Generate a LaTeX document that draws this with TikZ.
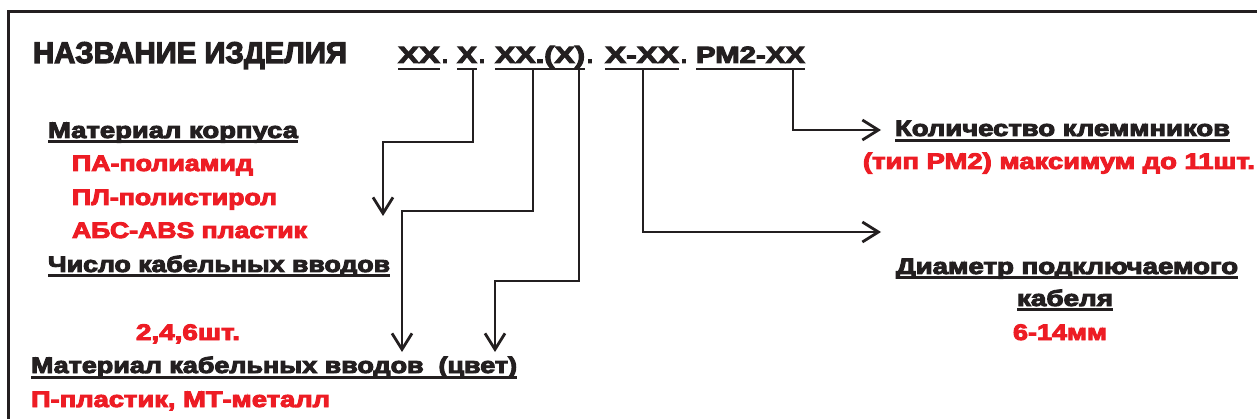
\documentclass[tikz,border=0pt]{standalone}
\usepackage{fontspec}
\setmainfont{Liberation Sans}
\newfontfamily\heavyfont{Liberation Sans}[FakeBold=4,BoldFeatures={FakeBold=4}]
\usepackage{graphicx}
\usetikzlibrary{arrows.meta}
\definecolor{ink}{HTML}{231F20}
\definecolor{redt}{RGB}{237,28,36}
\newcommand{\fitw}[2]{\resizebox{#1}{\height}{#2}}
\newcommand{\drawul}[2]{\draw[ulline] ([yshift=-#2]#1.base west) -- ([yshift=-#2]#1.base east);}
\tikzset{
  txt/.style={inner sep=0pt, outer sep=0pt, anchor=base west, text=ink,
    font=\heavyfont\fontsize{22.5}{23}\selectfont\bfseries},
  redtxt/.style={txt, text=redt},
  ttl/.style={txt, font=\heavyfont\fontsize{30}{31}\selectfont\bfseries},
  codetxt/.style={txt, font=\heavyfont\fontsize{23.5}{24}\selectfont\bfseries},
  ulline/.style={draw=ink, line width=2.4pt},
  frameline/.style={draw=ink, line width=3pt},
  conn/.style={draw=ink, line width=2.8pt, -{Straight Barb[length=16pt,width=20pt]}},
}
\begin{document}
\begin{tikzpicture}[x=1pt,y=-1pt]
\useasboundingbox (0,0) rectangle (1257,419);
% frame
\draw[frameline] (8.5,420) -- (8.5,11.5) -- (1258,11.5);

% title and code
\node[ttl] (title) at (33,63) {\fitw{314pt}{НАЗВАНИЕ ИЗДЕЛИЯ}};
\node[codetxt] (c1) at (398,63) {\fitw{42pt}{ХХ}};
\node[codetxt] (d1) at (442,63) {\fitw{6pt}{.}};
\node[codetxt] (c2) at (457,63) {\fitw{20pt}{Х}};
\node[codetxt] (d2) at (479,63) {\fitw{6pt}{.}};
\node[codetxt] (c3) at (495,63) {\fitw{90pt}{ХХ.(Х)}};
\node[codetxt] (d3) at (587,63) {\fitw{6pt}{.}};
\node[codetxt] (c4) at (605,63) {\fitw{74pt}{Х-ХХ}};
\node[codetxt] (d4) at (681,63) {\fitw{6pt}{.}};
\node[codetxt] (c5) at (696,63) {\fitw{109pt}{РМ2-ХХ}};
\foreach \n in {c1,c2,c3,c4,c5} {\drawul{\n}{6pt}}

% left column
\node[txt] (mk) at (48,138) {\fitw{250pt}{Материал корпуса}};
\drawul{mk}{3.5pt}
\node[redtxt] (pa) at (72,171) {\fitw{181pt}{ПА-полиамид}};
\node[redtxt] (pl) at (72,205) {\fitw{205pt}{ПЛ-полистирол}};
\node[redtxt] (abs) at (72,238) {\fitw{235pt}{АБС-ABS пластик}};
\node[txt] (ch) at (48,272) {\fitw{342pt}{Число кабельных вводов}};
\drawul{ch}{3.5pt}
\node[redtxt] (sht) at (136,340) {\fitw{104pt}{2,4,6шт.}};
\node[txt] (mkv) at (31,373) {\fitw{486pt}{Материал кабельных вводов\ \ (цвет)}};
\drawul{mkv}{4.5pt}
\node[redtxt] (pm) at (31,407) {\fitw{299pt}{П-пластик, МТ-металл}};

% right column
\node[txt] (kol) at (895,136) {\fitw{335pt}{Количество клеммников}};
\drawul{kol}{4.5pt}
\node[redtxt] (tip) at (863,169) {\fitw{392pt}{(тип РМ2) максимум до 11шт.}};
\node[txt] (diam) at (896,274) {\fitw{342pt}{Диаметр подключаемого}};
\drawul{diam}{3.5pt}
\node[txt] (kab) at (1017,306) {\fitw{96pt}{кабеля}};
\drawul{kab}{3.5pt}
\node[redtxt] (mm) at (1013,340) {\fitw{94pt}{6-14мм}};

% connector points
\coordinate (s1) at (473,69);
\coordinate (b1) at (383,142);
\coordinate (e1) at (383,216);
\coordinate (s2) at (533,69);
\coordinate (b2) at (402,211);
\coordinate (e2) at (402,352);
\coordinate (s3) at (579,69);
\coordinate (b3) at (495,281);
\coordinate (e3) at (495,352);
\coordinate (s4) at (643,69);
\coordinate (e4) at (881,232);
\coordinate (s5) at (793,69);
\coordinate (e5) at (881,130);

\draw[conn] (s1) |- (b1) -- (e1);
\draw[conn] (s2) |- (b2) -- (e2);
\draw[conn] (s3) |- (b3) -- (e3);
\draw[conn] (s4) |- (e4);
\draw[conn] (s5) |- (e5);
\end{tikzpicture}
\end{document}
